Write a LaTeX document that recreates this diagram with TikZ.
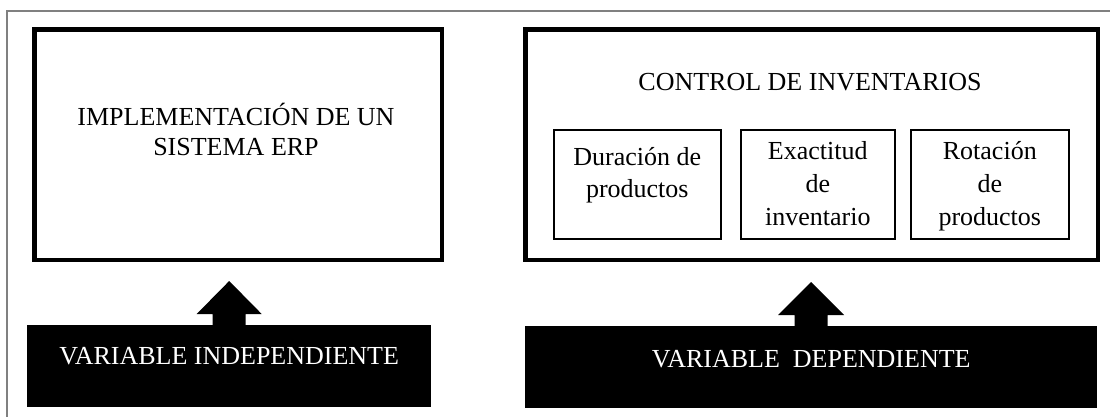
\documentclass[tikz,border=0pt]{standalone}
\usepackage{fontspec}
\setmainfont{Liberation Serif}
\usetikzlibrary{calc}
\begin{document}
\begin{tikzpicture}[x=1pt,y=-1pt,
  bigbox/.style={draw=black, line width=4.5pt, inner sep=0pt, anchor=north west},
  subbox/.style={draw=black, line width=1.8pt, inner sep=0pt, anchor=north west},
  blackbox/.style={fill=black, draw=none, inner sep=0pt, anchor=north west},
  txt/.style={inner sep=0pt, anchor=base, font=\fontsize{26}{30}\selectfont},
  wtxt/.style={txt, text=white},
  uparrow/.style={fill=black, draw=none},
  frame/.style={draw=gray, line width=1.5pt}]
\useasboundingbox (0,0) rectangle (1110,417);
\fill[white] (0,0) rectangle (1110,417);
\draw[frame] (7,417) -- (7,11) -- (1110,11);

% upper boxes
\node[bigbox, minimum width=407.5pt, minimum height=230.5pt] (impl) at (32.25,27.25) {};
\node[bigbox, minimum width=572.5pt, minimum height=230.5pt] (ctrl) at (523.25,27.25) {};

\node[txt] (implA) at (236,125) {IMPLEMENTACIÓN DE UN};
\node[txt] (implB) at (236,155) {SISTEMA ERP};
\node[txt] (ctrlT) at (810,91) {CONTROL DE INVENTARIOS};

% indicator boxes
\node[subbox, minimum width=167pt, minimum height=109pt] (dur) at (552.9,128.9) {};
\node[subbox, minimum width=154pt, minimum height=109pt] (exa) at (739.9,128.9) {};
\node[subbox, minimum width=158pt, minimum height=109pt] (rot) at (909.9,128.9) {};

\node[txt] (durA) at ($(dur.north)!0.5!(dur.north)+(0,37)$) {Duración de};
\node[txt] (durB) at ($(dur.north)+(0,69)$) {productos};
\node[txt] (exaA) at ($(exa.north)+(0,31)$) {Exactitud};
\node[txt] (exaB) at ($(exa.north)+(0,64)$) {de};
\node[txt] (exaC) at ($(exa.north)+(0,97)$) {inventario};
\node[txt] (rotA) at ($(rot.north)+(0,31)$) {Rotación};
\node[txt] (rotB) at ($(rot.north)+(0,64)$) {de};
\node[txt] (rotC) at ($(rot.north)+(0,97)$) {productos};

% variable boxes
\node[blackbox, minimum width=404pt, minimum height=82pt] (vi) at (27,325) {};
\node[blackbox, minimum width=572pt, minimum height=82pt] (vd) at (525,326) {};
\node[wtxt] (viT) at ($(vi.north)+(0,39)$) {VARIABLE INDEPENDIENTE};
\node[wtxt] (vdT) at ($(vd.north)+(0,41)$) {VARIABLE\ \ DEPENDIENTE};

% block arrows from the variable boxes up to the upper boxes
\coordinate (tipI) at ($(vi.north)+(0,-44)$);
\coordinate (tipD) at ($(vd.north)+(0,-44)$);
\fill[uparrow] ($(vi.north)+(-16.5,1)$) -- ($(vi.north)+(-16.5,-11)$) -- ($(vi.north)+(-32.5,-11)$)
  -- (tipI) -- ($(vi.north)+(32.5,-11)$) -- ($(vi.north)+(16.5,-11)$) -- ($(vi.north)+(16.5,1)$) -- cycle;
\fill[uparrow] ($(vd.north)+(-16.5,1)$) -- ($(vd.north)+(-16.5,-11)$) -- ($(vd.north)+(-33,-11)$)
  -- (tipD) -- ($(vd.north)+(33,-11)$) -- ($(vd.north)+(16.5,-11)$) -- ($(vd.north)+(16.5,1)$) -- cycle;
\end{tikzpicture}
\end{document}
